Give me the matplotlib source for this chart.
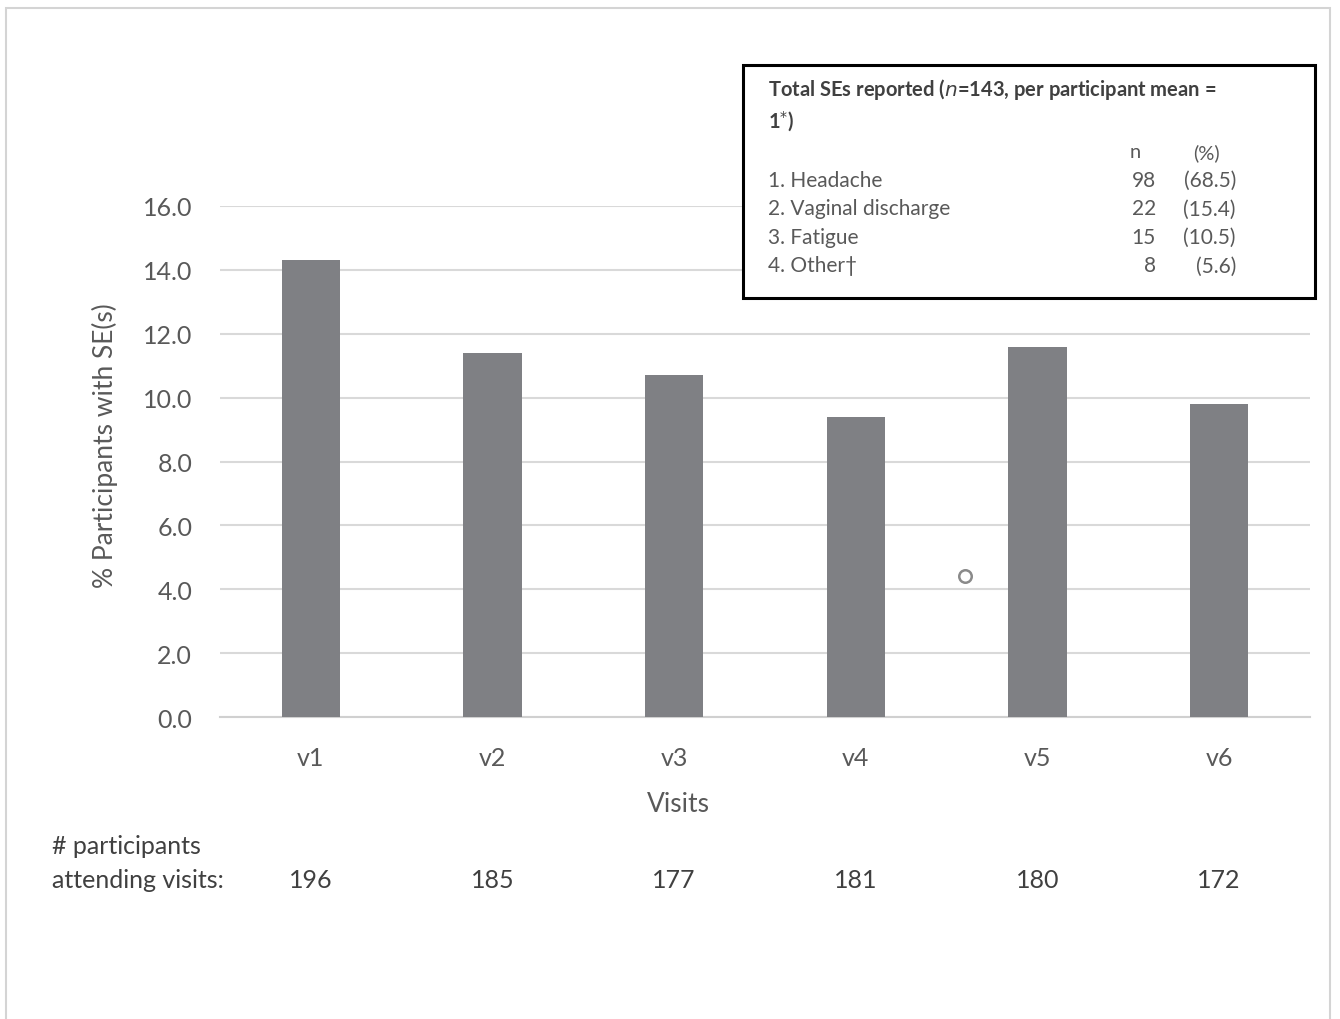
import numpy as np
import matplotlib.pyplot as plt
from matplotlib.patches import Rectangle

plt.rcParams['font.family'] = ['Lato', 'DejaVu Sans']

visits = ['v1', 'v2', 'v3', 'v4', 'v5', 'v6']
pctWithSE = [14.3, 11.4, 10.7, 9.4, 11.6, 9.8]
nAttending = [196, 185, 177, 181, 180, 172]

seNames = ['1. Headache', '2. Vaginal discharge', '3. Fatigue', '4. Other\u2020']
seCounts = [98, 22, 15, 8]
sePct = [68.5, 15.4, 10.5, 5.6]

# stray open circle seen on the original
strayX = 3.6
strayY = 4.4

W, H = 1340, 1020
fig = plt.figure(figsize=(W / 100, H / 100), dpi=100)

def px(x, y):
    return x / W, 1 - y / H

# outer frame
fig.patches.append(Rectangle(px(6, 1040), 1324 / W, 1031 / H, transform=fig.transFigure,
                             fill=False, edgecolor='#d4d4d4', linewidth=1.5))

ax = fig.add_axes([220 / W, 1 - 718 / H, 1090 / W, (718 - 207) / H])
xpos = np.arange(len(visits))
ax.bar(xpos, pctWithSE, width=0.32, color='#7f8084', zorder=3)
ax.plot([strayX], [strayY], 'o', markersize=9, markerfacecolor='white',
        markeredgecolor='#8a8a8a', markeredgewidth=1.8, zorder=4)

ax.set_xlim(-0.5, len(visits) - 0.5)
ax.set_ylim(0, 16)
ax.set_yticks(np.arange(0, 16.1, 2))
ax.set_yticklabels(['{0:.1f}'.format(v) for v in np.arange(0, 16.1, 2)])
ax.set_xticks(xpos)
ax.set_xticklabels(visits)
ax.grid(axis='y', color='#d9d9d9', linewidth=1.5, zorder=0)
for s in ['top', 'right', 'left']:
    ax.spines[s].set_visible(False)
ax.spines['bottom'].set_color('#d0d0d0')
ax.spines['bottom'].set_linewidth(1.5)
ax.tick_params(axis='both', length=0, labelsize=18, colors='#595959')
ax.tick_params(axis='y', pad=20)
ax.tick_params(axis='x', pad=21)

fig.text(*px(105, 446), '% Participants with SE(s)', rotation=90, ha='center', va='center',
         fontsize=19, color='#595959')
fig.text(*px(678, 805), 'Visits', ha='center', va='center', fontsize=19, color='#595959')

fig.text(*px(52, 846), '# participants', ha='left', va='center', fontsize=18, color='#404040')
fig.text(*px(52, 881), 'attending visits:', ha='left', va='center', fontsize=18, color='#404040')
for i, n in enumerate(nAttending):
    xf = ax.transData.transform((xpos[i], 0))[0] / W
    fig.text(xf, px(0, 881)[1], str(n), ha='center', va='center', fontsize=18, color='#404040')

# side-effect box
fig.patches.append(Rectangle(px(743, 299), 572 / W, 233 / H, transform=fig.transFigure,
                             fill=True, facecolor='white', edgecolor='black', linewidth=2.2, zorder=5))
fig.text(*px(768, 89), 'Total SEs reported ($n$=143, per participant mean =',
         ha='left', va='center', fontsize=14.5, fontweight='bold', color='#404040', zorder=6)
fig.text(*px(768, 122), '1$^{*}$)', ha='left', va='center', fontsize=14.5,
         fontweight='bold', color='#404040', zorder=6)
fig.text(*px(1135, 153), 'n', ha='center', va='center', fontsize=14.5, color='#595959', zorder=6)
fig.text(*px(1206, 153), '(%)', ha='center', va='center', fontsize=14.5, color='#595959', zorder=6)
for i in range(len(seNames)):
    yy = 181 + i * 28.5
    fig.text(*px(768, yy), seNames[i], ha='left', va='center', fontsize=15, color='#595959', zorder=6)
    fig.text(*px(1156, yy), str(seCounts[i]), ha='right', va='center', fontsize=15, color='#595959', zorder=6)
    fig.text(*px(1236, yy), '({0:.1f})'.format(sePct[i]), ha='right', va='center', fontsize=15,
             color='#595959', zorder=6)

fig.savefig('out.png', dpi=100, facecolor='white')
